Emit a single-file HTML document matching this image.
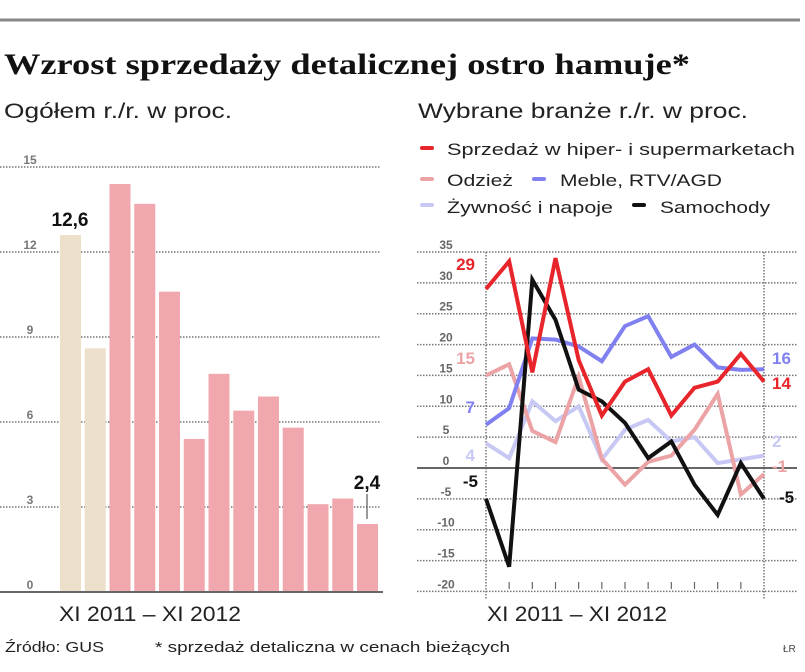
<!DOCTYPE html>
<html><head><meta charset="utf-8"><style>
html,body{margin:0;padding:0;background:#fff;}
svg{display:block;}
text{font-family:"Liberation Sans",sans-serif;}
</style></head><body>
<svg id="chart" width="805" height="672" viewBox="0 0 805 672">
<rect x="0" y="0" width="805" height="672" fill="#fff"/>
<line x1="0" y1="20" x2="800" y2="20" stroke="#888" stroke-width="3"/>
<text x="4" y="74" style="font-family:'Liberation Serif',serif" font-weight="bold" font-size="30" textLength="686" lengthAdjust="spacingAndGlyphs" fill="#111">Wzrost sprzedaży detalicznej ostro hamuje*</text>
<text x="4" y="118" font-size="21" textLength="228" lengthAdjust="spacingAndGlyphs" fill="#222">Ogółem r./r. w proc.</text>
<text x="418" y="118" font-size="21" textLength="330" lengthAdjust="spacingAndGlyphs" fill="#222">Wybrane branże r./r. w proc.</text>
<g>
 <g><rect x="420" y="146" width="14" height="4" rx="2" fill="#e8252a"/><text x="447" y="155" font-size="17" textLength="348" lengthAdjust="spacingAndGlyphs" fill="#222">Sprzedaż w hiper- i supermarketach</text></g>
 <g><rect x="420" y="177" width="14" height="4" rx="2" fill="#eba3a5"/><text x="447" y="186" font-size="17" textLength="66" lengthAdjust="spacingAndGlyphs" fill="#222">Odzież</text></g>
 <g><rect x="532" y="177" width="14" height="4" rx="2" fill="#8080f0"/><text x="560" y="186" font-size="17" textLength="162" lengthAdjust="spacingAndGlyphs" fill="#222">Meble, RTV/AGD</text></g>
 <g><rect x="420" y="203" width="14" height="4" rx="2" fill="#c8c8f5"/><text x="447" y="213" font-size="17" textLength="166" lengthAdjust="spacingAndGlyphs" fill="#222">Żywność i napoje</text></g>
 <g><rect x="632" y="203" width="14" height="4" rx="2" fill="#111"/><text x="660" y="213" font-size="17" textLength="110" lengthAdjust="spacingAndGlyphs" fill="#222">Samochody</text></g>
</g>
<g id="left"></g>
<g id="right"></g>
<text x="59" y="621" font-size="21" textLength="182" lengthAdjust="spacingAndGlyphs" fill="#222">XI 2011 – XI 2012</text>
<text x="487" y="621" font-size="21" textLength="180" lengthAdjust="spacingAndGlyphs" fill="#222">XI 2011 – XI 2012</text>
<text x="5" y="652" font-size="15" textLength="99" lengthAdjust="spacingAndGlyphs" fill="#222">Źródło: GUS</text>
<text x="155" y="652" font-size="15" textLength="355" lengthAdjust="spacingAndGlyphs" fill="#222">* sprzedaż detaliczna w cenach bieżących</text>
<text x="783" y="652" font-size="10" fill="#444">ŁR</text>
</svg>
<script>
const NS='http://www.w3.org/2000/svg';
// left chart data
const barValues=[12.6,8.6,14.4,13.7,10.6,5.4,7.7,6.4,6.9,5.8,3.1,3.3,2.4];
const barYTicks=[0,3,6,9,12,15];
// right chart data
const hiperValues=[29,33.5,15.5,34,17.5,8.5,14,16,8.5,13,14,18.5,14];
const odziezValues=[15,16.8,6,4.2,14.8,1.5,-2.7,1,2,6.2,12,-4.3,-1];
const mebleValues=[7,9.7,21,20.8,19.7,17.3,23,24.6,18,20,16.3,15.9,16];
const zywnoscValues=[4,1.6,10.8,7.6,10,1.4,6.2,7.8,4.3,5,0.8,1.4,2];
const samochodyValues=[-5,-16,30.5,24,12.7,10.8,7.3,1.6,4.3,-2.7,-7.6,0.8,-5];
const lineYTicks=[-20,-15,-10,-5,0,5,10,15,20,25,30,35];

function mk(tag,attrs,parent){const e=document.createElementNS(NS,tag);for(const k in attrs)e.setAttribute(k,attrs[k]);parent.appendChild(e);return e;}

// ---- left bar chart
const L=document.getElementById('left');
const ly=v=>592-v*(425/15);
const lx=i=>60+i*24.75;
barYTicks.forEach(t=>{
 if(t>0){const g=mk('line',{x1:0,y1:ly(t),x2:380,y2:ly(t),stroke:'#777','stroke-width':1.5,'stroke-dasharray':'1.5 1.5'},L);
 
 }
 const tx=mk('text',{x:30,y:ly(t)-3,'font-size':12,'font-weight':'bold',fill:'#777','text-anchor':'middle'},L);tx.textContent=t;
 
 
});
barValues.forEach((v,i)=>{
 const r=mk('rect',{x:lx(i),y:ly(v),width:21,height:ly(0)-ly(v),fill:i<2?'#ede0cb':'#f0a8ae'},L);
 
 
});
const base=mk('line',{x1:0,y1:ly(0),x2:383,y2:ly(0),stroke:'#666','stroke-width':2},L);


const lab1=mk('text',{x:lx(0)+10,y:ly(barValues[0])-9,'font-size':19,'font-weight':'bold',fill:'#111','text-anchor':'middle'},L);
lab1.textContent=String(barValues[0]).replace('.',',');


const last=barValues.length-1;
const lab2=mk('text',{x:lx(last)+10,y:ly(barValues[last])-35,'font-size':19,'font-weight':'bold',fill:'#111','text-anchor':'middle'},L);
lab2.textContent=String(barValues[last]).replace('.',',');


const ld=mk('line',{x1:lx(last)+10,y1:ly(barValues[last])-30,x2:lx(last)+10,y2:ly(barValues[last])-5,stroke:'#555','stroke-width':1.2},L);



// ---- right line chart
const R=document.getElementById('right');
const ry=v=>468-v*(216/35);
const rx=i=>486+i*(278/12);
lineYTicks.forEach(t=>{
 if(t!==0){const g=mk('line',{x1:417,y1:ry(t),x2:797,y2:ry(t),stroke:'#777','stroke-width':1.5,'stroke-dasharray':'1.5 1.5'},R);
 
 }
 const tx=mk('text',{x:446,y:ry(t)-3,'font-size':12,'font-weight':'bold',fill:'#666','text-anchor':'middle'},R);tx.textContent=t;
 
 
});
[0,12].forEach(i=>{const v=mk('line',{x1:rx(i),y1:252,x2:rx(i),y2:600,stroke:'#777','stroke-width':1.5,'stroke-dasharray':'1.5 1.5'},R);
 
 });
for(let i=1;i<12;i++){const t=mk('line',{x1:rx(i),y1:582,x2:rx(i),y2:589,stroke:'#666','stroke-width':1.2},R);
 
 }
const zero=mk('line',{x1:417,y1:ry(0),x2:797,y2:ry(0),stroke:'#666','stroke-width':2},R);


const series=[
 ['zywnosc',zywnoscValues,'#c8c8f5'],
 ['odziez',odziezValues,'#eba3a5'],
 ['meble',mebleValues,'#8080f0'],
 ['samochody',samochodyValues,'#111'],
 ['hiper',hiperValues,'#e8252a']];
series.forEach(([n,vals,c])=>{
 const p=mk('polyline',{points:vals.map((v,i)=>rx(i)+','+ry(v)).join(' '),fill:'none',stroke:c,'stroke-width':4,'stroke-linejoin':'miter'},R);
 
 
});
const endLabels=[
 ['hiper',hiperValues,'#e8252a',475,270,'end',772,389],
 ['odziez',odziezValues,'#eba3a5',475,364,'end',772,472],
 ['meble',mebleValues,'#8080f0',475,413,'end',772,364],
 ['zywnosc',zywnoscValues,'#c8c8f5',475,461,'end',772,447],
 ['samochody',samochodyValues,'#111',478,487,'end',779,503]];
endLabels.forEach(([n,vals,c,x1,y1,a,x2,y2])=>{
 const s=mk('text',{x:x1,y:y1,'font-size':17,'font-weight':'bold',fill:c,'text-anchor':'end'},R);
 s.textContent=Math.round(vals[0]);
 
 
 const e=mk('text',{x:x2,y:y2,'font-size':17,'font-weight':'bold',fill:c},R);
 e.textContent=Math.round(vals[vals.length-1]);
 
 
});
</script>
</body></html>
